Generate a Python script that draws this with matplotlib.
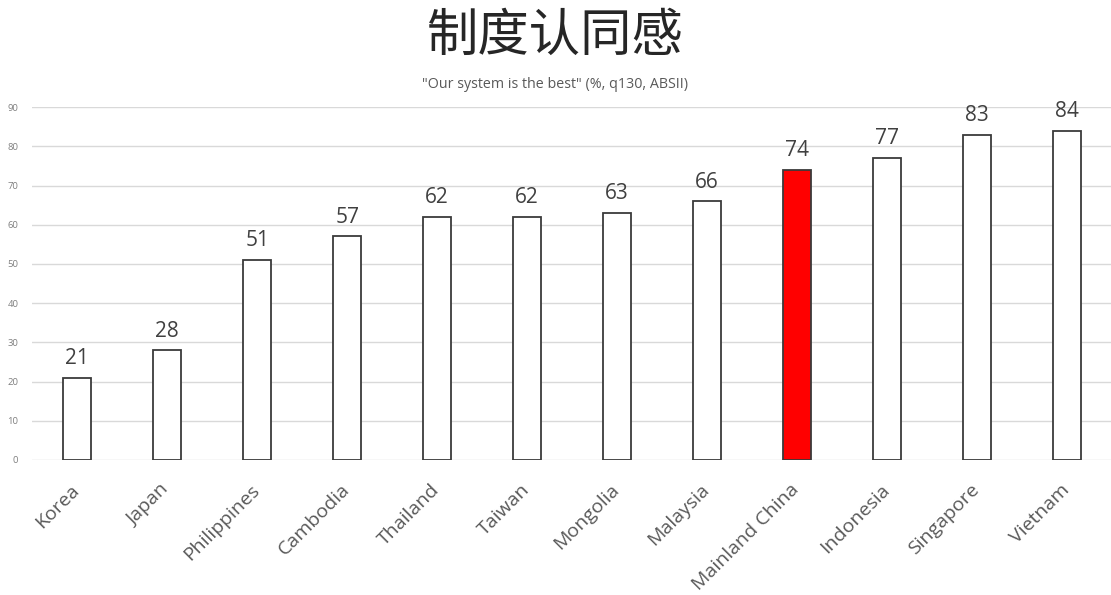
import numpy as np
import matplotlib.pyplot as plt
from matplotlib.transforms import ScaledTranslation

plt.rcParams['font.family'] = ['Open Sans', 'DejaVu Sans']

countries = ['Korea', 'Japan', 'Philippines', 'Cambodia', 'Thailand', 'Taiwan',
             'Mongolia', 'Malaysia', 'Mainland China', 'Indonesia', 'Singapore', 'Vietnam']
values = [21, 28, 51, 57, 62, 62, 63, 66, 74, 77, 83, 84]
highlight = 'Mainland China'

fig = plt.figure(figsize=(11.11, 5.95), dpi=100)
ax = fig.add_axes([0.029, 0.227, 0.972, 0.593])

x = np.arange(len(countries))
colors = ['red' if c == highlight else 'white' for c in countries]
ax.bar(x, values, width=0.31, color=colors, edgecolor='#3a3a3a', linewidth=1.3, zorder=3)

for xi, v in zip(x, values):
    ax.text(xi, v + 2.2, str(v), ha='center', va='bottom', fontsize=15, color='#404040')

ax.set_xlim(-0.5, len(countries) - 0.5)
ax.set_ylim(0, 90)
ax.set_yticks(np.arange(0, 91, 10))
ax.yaxis.grid(True, color='#d9d9d9', linewidth=1, zorder=0)
ax.tick_params(axis='y', length=0, labelsize=6.8, labelcolor='#7f7f7f', pad=10)
ax.tick_params(axis='x', length=0, pad=15)
for s in ax.spines.values():
    s.set_visible(False)

ax.set_xticks(x)
ax.set_xticklabels(countries, rotation=45, ha='right', rotation_mode='anchor',
                   fontsize=14, color='#595959')
# nudge the rotated labels a little to the left
shift = ScaledTranslation(-7 / 100, 0, fig.dpi_scale_trans)
for lbl in ax.get_xticklabels():
    lbl.set_transform(lbl.get_transform() + shift)

fig.text(0.5, 0.94, '制度认同感', ha='center', va='center', fontsize=37,
         family=['Noto Sans CJK SC'], fontweight='light', color='#262626')
fig.text(0.5, 0.858, '"Our system is the best" (%, q130, ABSII)', ha='center', va='center',
         fontsize=10.3, color='#595959')

fig.savefig('out.png', dpi=100, facecolor='white')
